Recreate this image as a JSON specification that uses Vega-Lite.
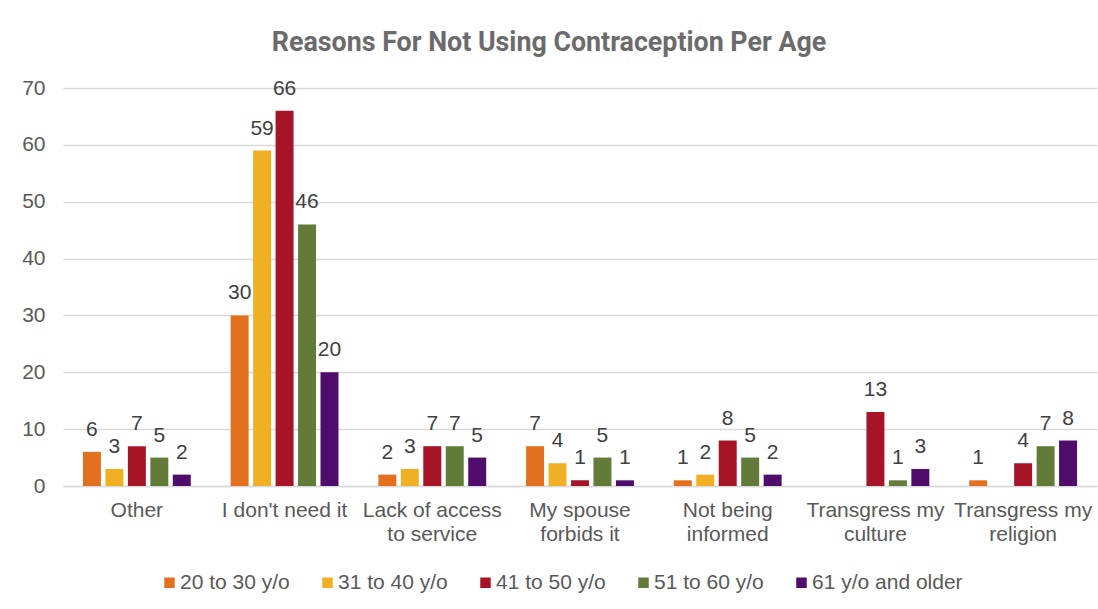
{
  "$schema": "https://vega.github.io/schema/vega-lite/v6.json",
  "width": 1034,
  "height": 398,
  "autosize": {"type": "none"},
  "padding": {"left": 63, "top": 88, "right": 1, "bottom": 123},
  "background": "white",
  "title": {
    "text": "Reasons For Not Using Contraception Per Age",
    "font": "Roboto, sans-serif",
    "fontSize": 26.8,
    "fontWeight": "bold",
    "color": "#6b6b6b",
    "anchor": "middle",
    "frame": "group",
    "baseline": "alphabetic",
    "offset": -1,
    "dx": -31
  },
  "data": {
    "values": [
      {"reason": "Other", "age": "20 to 30 y/o", "count": 6},
      {"reason": "Other", "age": "31 to 40 y/o", "count": 3},
      {"reason": "Other", "age": "41 to 50 y/o", "count": 7},
      {"reason": "Other", "age": "51 to 60 y/o", "count": 5},
      {"reason": "Other", "age": "61 y/o and older", "count": 2},
      {"reason": "I don't need it", "age": "20 to 30 y/o", "count": 30},
      {"reason": "I don't need it", "age": "31 to 40 y/o", "count": 59},
      {"reason": "I don't need it", "age": "41 to 50 y/o", "count": 66},
      {"reason": "I don't need it", "age": "51 to 60 y/o", "count": 46},
      {"reason": "I don't need it", "age": "61 y/o and older", "count": 20},
      {"reason": "Lack of access to service", "age": "20 to 30 y/o", "count": 2},
      {"reason": "Lack of access to service", "age": "31 to 40 y/o", "count": 3},
      {"reason": "Lack of access to service", "age": "41 to 50 y/o", "count": 7},
      {"reason": "Lack of access to service", "age": "51 to 60 y/o", "count": 7},
      {"reason": "Lack of access to service", "age": "61 y/o and older", "count": 5},
      {"reason": "My spouse forbids it", "age": "20 to 30 y/o", "count": 7},
      {"reason": "My spouse forbids it", "age": "31 to 40 y/o", "count": 4},
      {"reason": "My spouse forbids it", "age": "41 to 50 y/o", "count": 1},
      {"reason": "My spouse forbids it", "age": "51 to 60 y/o", "count": 5},
      {"reason": "My spouse forbids it", "age": "61 y/o and older", "count": 1},
      {"reason": "Not being informed", "age": "20 to 30 y/o", "count": 1},
      {"reason": "Not being informed", "age": "31 to 40 y/o", "count": 2},
      {"reason": "Not being informed", "age": "41 to 50 y/o", "count": 8},
      {"reason": "Not being informed", "age": "51 to 60 y/o", "count": 5},
      {"reason": "Not being informed", "age": "61 y/o and older", "count": 2},
      {"reason": "Transgress my culture", "age": "41 to 50 y/o", "count": 13},
      {"reason": "Transgress my culture", "age": "51 to 60 y/o", "count": 1},
      {"reason": "Transgress my culture", "age": "61 y/o and older", "count": 3},
      {"reason": "Transgress my religion", "age": "20 to 30 y/o", "count": 1},
      {"reason": "Transgress my religion", "age": "41 to 50 y/o", "count": 4},
      {"reason": "Transgress my religion", "age": "51 to 60 y/o", "count": 7},
      {"reason": "Transgress my religion", "age": "61 y/o and older", "count": 8}
    ]
  },
  "encoding": {
    "x": {
      "field": "reason",
      "type": "nominal",
      "sort": ["Other", "I don't need it", "Lack of access to service", "My spouse forbids it", "Not being informed", "Transgress my culture", "Transgress my religion"],
      "scale": {"paddingInner": 0.27, "paddingOuter": 0.135},
      "axis": {
        "title": null,
        "labelAngle": 0,
        "ticks": false,
        "labelPadding": 13,
        "labelFontSize": 21,
        "labelLineHeight": 24.5,
        "labelColor": "#595959",
        "labelFont": "Liberation Sans, Arial, sans-serif",
        "domainColor": "#d9d9d9",
        "domainWidth": 1.5,
        "labelExpr": "datum.value == 'Lack of access to service' ? ['Lack of access', 'to service'] : datum.value == 'My spouse forbids it' ? ['My spouse', 'forbids it'] : datum.value == 'Not being informed' ? ['Not being', 'informed'] : datum.value == 'Transgress my culture' ? ['Transgress my', 'culture'] : datum.value == 'Transgress my religion' ? ['Transgress my', 'religion'] : datum.value"
      }
    },
    "xOffset": {
      "field": "age",
      "type": "nominal",
      "sort": ["20 to 30 y/o", "31 to 40 y/o", "41 to 50 y/o", "51 to 60 y/o", "61 y/o and older"],
      "scale": {"paddingInner": 0.2, "paddingOuter": 0}
    },
    "y": {
      "field": "count",
      "type": "quantitative",
      "scale": {"domain": [0, 70], "nice": false},
      "axis": {
        "title": null,
        "values": [0, 10, 20, 30, 40, 50, 60, 70],
        "domain": false,
        "ticks": false,
        "labelPadding": 18,
        "labelFontSize": 21,
        "labelColor": "#595959",
        "labelFont": "Liberation Sans, Arial, sans-serif",
        "gridColor": "#d9d9d9",
        "gridWidth": 1.5
      }
    }
  },
  "layer": [
    {
      "mark": {"type": "bar"},
      "encoding": {
        "color": {
          "field": "age",
          "type": "nominal",
          "sort": ["20 to 30 y/o", "31 to 40 y/o", "41 to 50 y/o", "51 to 60 y/o", "61 y/o and older"],
          "scale": {
            "domain": ["20 to 30 y/o", "31 to 40 y/o", "41 to 50 y/o", "51 to 60 y/o", "61 y/o and older"],
            "range": ["#e2701f", "#f0b023", "#a61428", "#627b38", "#4f0c6b"]
          },
          "legend": {
            "title": null,
            "orient": "none",
            "legendX": 96,
            "legendY": 484,
            "direction": "horizontal",
            "padding": 0,
            "symbolType": "square",
            "symbolSize": 110,
            "symbolStrokeWidth": 0,
            "labelFontSize": 21,
            "labelColor": "#595959",
            "labelFont": "Liberation Sans, Arial, sans-serif",
            "labelOffset": 0,
            "columnPadding": 27
          }
        }
      }
    },
    {
      "mark": {
        "type": "text",
        "baseline": "alphabetic",
        "dy": -16,
        "fontSize": 21,
        "font": "Liberation Sans, Arial, sans-serif",
        "color": "#404040"
      },
      "encoding": {
        "text": {"field": "count", "type": "quantitative"}
      }
    }
  ],
  "config": {
    "view": {"stroke": null}
  }
}
